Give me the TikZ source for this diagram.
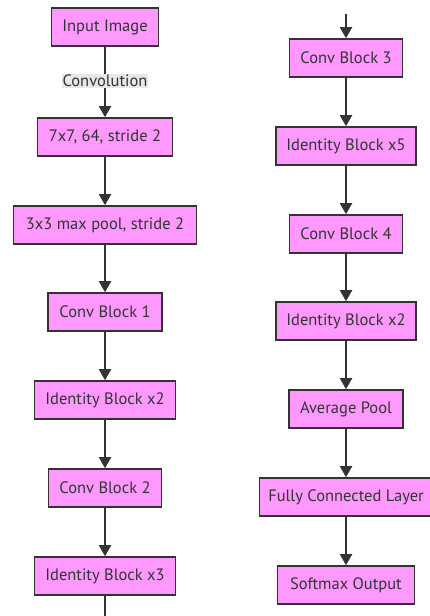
\documentclass[tikz,border=0pt]{standalone}
\usepackage{fontspec}
\setmainfont{PT Sans}
\usetikzlibrary{arrows.meta}
\definecolor{boxfill}{HTML}{FF99FF}
\definecolor{edgecol}{HTML}{333333}
\definecolor{lblbg}{HTML}{E8E8E8}
\begin{document}
\begin{tikzpicture}[x=1pt,y=-1pt,
  blk/.style={draw=edgecol, line width=1.6pt, fill=boxfill, text=edgecol,
    minimum height=38pt, inner sep=0pt, font=\fontsize{16.5}{19}\selectfont},
  conn/.style={draw=edgecol, line width=2pt, -{Triangle[width=12pt,length=11pt]}},
  lbl/.style={fill=lblbg, text=edgecol, inner sep=1pt, font=\fontsize{16.5}{19}\selectfont}]
\useasboundingbox (0,0) rectangle (430,616);
% left column
\node[blk, minimum width=107pt] (in) at (105,27) {Input Image};
\node[blk, minimum width=135pt] (c7) at (105,137) {7x7, 64, stride 2};
\node[blk, minimum width=183pt] (mp) at (105,225) {3x3 max pool, stride 2};
\node[blk, minimum width=114pt] (cb1) at (105,312) {Conv Block 1};
\node[blk, minimum width=141pt] (ib2) at (105,400) {Identity Block x2};
\node[blk, minimum width=113pt] (cb2) at (105,488) {Conv Block 2};
\node[blk, minimum width=141pt] (ib3) at (105,576) {Identity Block x3};
\coordinate (lend) at (105,616);
% right column
\coordinate (rstart) at (346,14);
\node[blk, minimum width=113pt] (cb3) at (346,58) {Conv Block 3};
\node[blk, minimum width=140pt] (ib5) at (346,146) {Identity Block x5};
\node[blk, minimum width=113pt] (cb4) at (346,234) {Conv Block 4};
\node[blk, minimum width=140pt] (ib2b) at (346,321) {Identity Block x2};
\node[blk, minimum width=114pt] (ap) at (346,409) {Average Pool};
\node[blk, minimum width=173pt] (fc) at (346,497) {Fully Connected Layer};
\node[blk, minimum width=137pt] (sm) at (346,585) {Softmax Output};
% connectors
\draw[conn] (in) -- node[lbl, pos=0.48] {Convolution} (c7);
\draw[conn] (c7) -- (mp);
\draw[conn] (mp) -- (cb1);
\draw[conn] (cb1) -- (ib2);
\draw[conn] (ib2) -- (cb2);
\draw[conn] (cb2) -- (ib3);
\draw[draw=edgecol, line width=2pt] (ib3) -- (lend);
\draw[conn] (rstart) -- (cb3);
\draw[conn] (cb3) -- (ib5);
\draw[conn] (ib5) -- (cb4);
\draw[conn] (cb4) -- (ib2b);
\draw[conn] (ib2b) -- (ap);
\draw[conn] (ap) -- (fc);
\draw[conn] (fc) -- (sm);
\end{tikzpicture}
\end{document}
